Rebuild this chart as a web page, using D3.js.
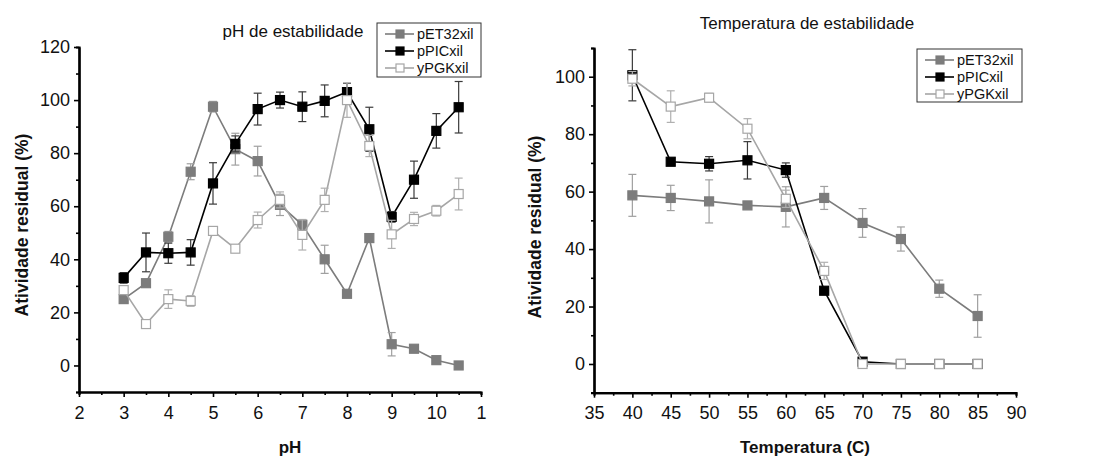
<!DOCTYPE html>
<html>
<head>
<meta charset="utf-8">
<script src="https://cdn.jsdelivr.net/npm/d3@7"></script>
<style>
    body { margin: 0; background: #fff; }
    svg { font-family: 'Liberation Sans', Arial, sans-serif; }
</style>
</head>
<body>
<svg id="chart"></svg>
<script>

/*
*   Data
*/

const SERIES_NAMES = ['pET32xil', 'pPICxil', 'yPGKxil']

const PH_VALUES = [3, 3.5, 4, 4.5, 5, 5.5, 6, 6.5, 7, 7.5, 8, 8.5, 9, 9.5, 10, 10.5]
const PH_PET32 = [25, 31, 48.5, 73, 97.5, 81.5, 77, 60.5, 53, 40, 27, 48, 8, 6.3, 2, 0]
const PH_PET32_ERR = [1.5, 1, 2, 3, 2, 6, 5.6, 4, 2, 5.3, 0, 0, 4.4, 0, 0, 0]
const PH_PPIC = [33, 42.6, 42.3, 42.6, 68.6, 83.5, 96.6, 100, 97.5, 99.7, 103, 89, 56, 70, 88.4, 97.3]
const PH_PPIC_ERR = [2, 7.3, 3.8, 4.8, 7.8, 3, 6, 3, 5.6, 6, 3.3, 8.3, 2, 7, 6.5, 9.7]
const PH_YPGK = [28.4, 15.6, 25, 24.3, 50.7, 44, 54.8, 62.4, 49.2, 62.4, 100, 82.7, 49.4, 55.2, 58.3, 64.6]
const PH_YPGK_ERR = [1.5, 0, 3.5, 2, 1.5, 0, 3, 3, 5.7, 4.4, 6.5, 4, 5.3, 2.5, 2, 6]

const TEMP_VALUES = [40, 45, 50, 55, 60, 65, 70, 75, 80, 85]
const TEMP_PET32 = [58.7, 57.8, 56.6, 55.2, 54.7, 57.8, 49.1, 43.5, 26.2, 16.7]
const TEMP_PET32_ERR = [7.3, 4.4, 7.5, 0, 7, 4, 5, 4.2, 3, 7.4]
const TEMP_PPIC = [100.5, 70.4, 69.7, 70.9, 67.5, 25.5, 0.8, 0, 0, 0]
const TEMP_PPIC_ERR = [8.9, 0, 2.5, 6.5, 2.5, 1, 0, 0, 0, 0]
const TEMP_YPGK = [99.3, 89.6, 92.7, 81.9, 57.5, 32.4, 0, 0, 0, 0]
const TEMP_YPGK_ERR = [2.5, 5.5, 1.5, 3.5, 3, 3, 0, 0, 0, 0]

const PH_TICKS = [2, 3, 4, 5, 6, 7, 8, 9, 10, 11]
const PH_TICK_LABELS = ['2', '3', '4', '5', '6', '7', '8', '9', '10', '1']
const PH_MINOR_TICKS = [2.5, 3.5, 4.5, 5.5, 6.5, 7.5, 8.5, 9.5, 10.5]
const PH_Y_TICKS = [0, 20, 40, 60, 80, 100, 120]
const PH_Y_MINOR_TICKS = [-10, 10, 30, 50, 70, 90, 110]

const TEMP_TICKS = [35, 40, 45, 50, 55, 60, 65, 70, 75, 80, 85, 90]
const TEMP_MINOR_TICKS = [37.5, 42.5, 47.5, 52.5, 57.5, 62.5, 67.5, 72.5, 77.5, 82.5, 87.5]
const TEMP_Y_TICKS = [0, 20, 40, 60, 80, 100]
const TEMP_Y_MINOR_TICKS = [-10, 10, 30, 50, 70, 90, 110]


/*
*   Styles
*/

const STYLES = [
    { line: '#7c7c7c', fill: '#7c7c7c', stroke: '#7c7c7c', err: '#a0a0a0' },
    { line: '#000000', fill: '#000000', stroke: '#000000', err: '#3a3a3a' },
    { line: '#a6a6a6', fill: '#ffffff', stroke: '#a6a6a6', err: '#b0b0b0' },
]

const WIDTH = 1095
const HEIGHT = 465
const MARKER = 9
const CAP = 4


/*
*   Draws one panel: axes, series, title and legend.
*/

const drawPanel = (svg, p) => {

    const x = d3.scaleLinear().domain(p.xDomain).range(p.xRange)
    const y = d3.scaleLinear().domain(p.yDomain).range(p.yRange)
    const g = svg.append('g')

    // axes
    const styleAxis = a => {
        a.select('.domain').attr('stroke', '#000').attr('stroke-width', 2.2)
        a.selectAll('.tick line').attr('stroke', '#000').attr('stroke-width', 1.6)
        a.selectAll('.tick text').attr('font-size', 18).attr('fill', '#111')
            .attr('font-family', "'Liberation Sans', Arial, sans-serif")
    }

    g.append('g')
        .attr('transform', `translate(0,${p.yRange[0]})`)
        .call(d3.axisBottom(x).tickValues(p.xMinor).tickSize(3).tickFormat(''))
        .call(styleAxis)

    g.append('g')
        .attr('transform', `translate(0,${p.yRange[0]})`)
        .call(d3.axisBottom(x).tickValues(p.xTicks).tickSize(5).tickSizeOuter(0).tickPadding(9)
            .tickFormat((d, i) => p.xLabels ? p.xLabels[i] : d))
        .call(styleAxis)

    g.append('g')
        .attr('transform', `translate(${p.xRange[0]},0)`)
        .call(d3.axisLeft(y).tickValues(p.yMinor).tickSize(3).tickFormat(''))
        .call(styleAxis)

    g.append('g')
        .attr('transform', `translate(${p.xRange[0]},0)`)
        .call(d3.axisLeft(y).tickValues(p.yTicks).tickSize(5).tickSizeOuter(0).tickPadding(4))
        .call(styleAxis)

    // series
    p.series.forEach((s, k) => {
        const st = STYLES[k]
        const pts = p.xs.map((v, i) => ({ x: v, y: s.values[i], e: s.errors[i] }))

        g.append('path')
            .datum(pts)
            .attr('fill', 'none')
            .attr('stroke', st.line)
            .attr('stroke-width', 1.6)
            .attr('d', d3.line().x(d => x(d.x)).y(d => y(d.y)))

        const bars = g.append('g')
            .attr('stroke', st.err)
            .attr('stroke-width', 1.2)
            .selectAll('g')
            .data(pts.filter(d => d.e > 0))
            .join('g')

        bars.append('line')
            .attr('x1', d => x(d.x)).attr('x2', d => x(d.x))
            .attr('y1', d => y(d.y - d.e)).attr('y2', d => y(d.y + d.e))
        bars.append('line')
            .attr('x1', d => x(d.x) - CAP).attr('x2', d => x(d.x) + CAP)
            .attr('y1', d => y(d.y + d.e)).attr('y2', d => y(d.y + d.e))
        bars.append('line')
            .attr('x1', d => x(d.x) - CAP).attr('x2', d => x(d.x) + CAP)
            .attr('y1', d => y(d.y - d.e)).attr('y2', d => y(d.y - d.e))

        g.append('g')
            .selectAll('rect')
            .data(pts)
            .join('rect')
            .attr('x', d => x(d.x) - MARKER / 2)
            .attr('y', d => y(d.y) - MARKER / 2)
            .attr('width', MARKER)
            .attr('height', MARKER)
            .attr('fill', st.fill)
            .attr('stroke', st.stroke)
            .attr('stroke-width', 1.2)
    })

    // title and axis labels
    g.append('text')
        .attr('x', p.title.x).attr('y', p.title.y)
        .attr('text-anchor', 'middle')
        .attr('font-size', 17)
        .attr('fill', '#111')
        .text(p.title.text)

    g.append('text')
        .attr('x', p.xLabel.x).attr('y', p.xLabel.y)
        .attr('text-anchor', 'middle')
        .attr('font-size', 17)
        .attr('font-weight', 'bold')
        .attr('fill', '#111')
        .text(p.xLabel.text)

    g.append('text')
        .attr('transform', `translate(${p.yLabel.x},${p.yLabel.y}) rotate(-90)`)
        .attr('text-anchor', 'middle')
        .attr('font-size', 17.5)
        .attr('font-weight', 'bold')
        .attr('fill', '#111')
        .text('Atividade residual (%)')

    // legend
    const lg = g.append('g').attr('transform', `translate(${p.legend.x},${p.legend.y})`)
    lg.append('rect')
        .attr('width', p.legend.w).attr('height', p.legend.h)
        .attr('fill', '#fff').attr('stroke', '#333').attr('stroke-width', 1)
    SERIES_NAMES.forEach((name, k) => {
        const st = STYLES[k]
        const ry = 11 + k * 17
        lg.append('line')
            .attr('x1', 8).attr('x2', 37).attr('y1', ry).attr('y2', ry)
            .attr('stroke', st.line).attr('stroke-width', 1.6)
        lg.append('rect')
            .attr('x', 23 - 4).attr('y', ry - 4).attr('width', 8).attr('height', 8)
            .attr('fill', st.fill).attr('stroke', st.stroke).attr('stroke-width', 1.2)
        lg.append('text')
            .attr('x', 40).attr('y', ry + 5)
            .attr('font-size', 14.5)
            .attr('fill', '#111')
            .text(name)
    })
}


/*
*   Execution entry point.
*/

const svg = d3.select('#chart')
    .attr('width', WIDTH)
    .attr('height', HEIGHT)

drawPanel(svg, {
    xDomain: [2, 11], xRange: [79, 481],
    yDomain: [-10, 120], yRange: [392, 47],
    xTicks: PH_TICKS, xLabels: PH_TICK_LABELS, xMinor: PH_MINOR_TICKS,
    yTicks: PH_Y_TICKS, yMinor: PH_Y_MINOR_TICKS,
    xs: PH_VALUES,
    series: [
        { values: PH_PET32, errors: PH_PET32_ERR },
        { values: PH_PPIC, errors: PH_PPIC_ERR },
        { values: PH_YPGK, errors: PH_YPGK_ERR },
    ],
    title: { text: 'pH de estabilidade', x: 293, y: 37 },
    xLabel: { text: 'pH', x: 290, y: 453 },
    yLabel: { x: 28, y: 225 },
    legend: { x: 377, y: 23, w: 104, h: 54 },
})

drawPanel(svg, {
    xDomain: [35, 90], xRange: [594, 1016],
    yDomain: [-10, 110], yRange: [392.7, 48],
    xTicks: TEMP_TICKS, xLabels: null, xMinor: TEMP_MINOR_TICKS,
    yTicks: TEMP_Y_TICKS, yMinor: TEMP_Y_MINOR_TICKS,
    xs: TEMP_VALUES,
    series: [
        { values: TEMP_PET32, errors: TEMP_PET32_ERR },
        { values: TEMP_PPIC, errors: TEMP_PPIC_ERR },
        { values: TEMP_YPGK, errors: TEMP_YPGK_ERR },
    ],
    title: { text: 'Temperatura de estabilidade', x: 807, y: 29 },
    xLabel: { text: 'Temperatura (C)', x: 805, y: 453 },
    yLabel: { x: 541, y: 227 },
    legend: { x: 917, y: 49, w: 105, h: 53 },
})

</script>
</body>
</html>
